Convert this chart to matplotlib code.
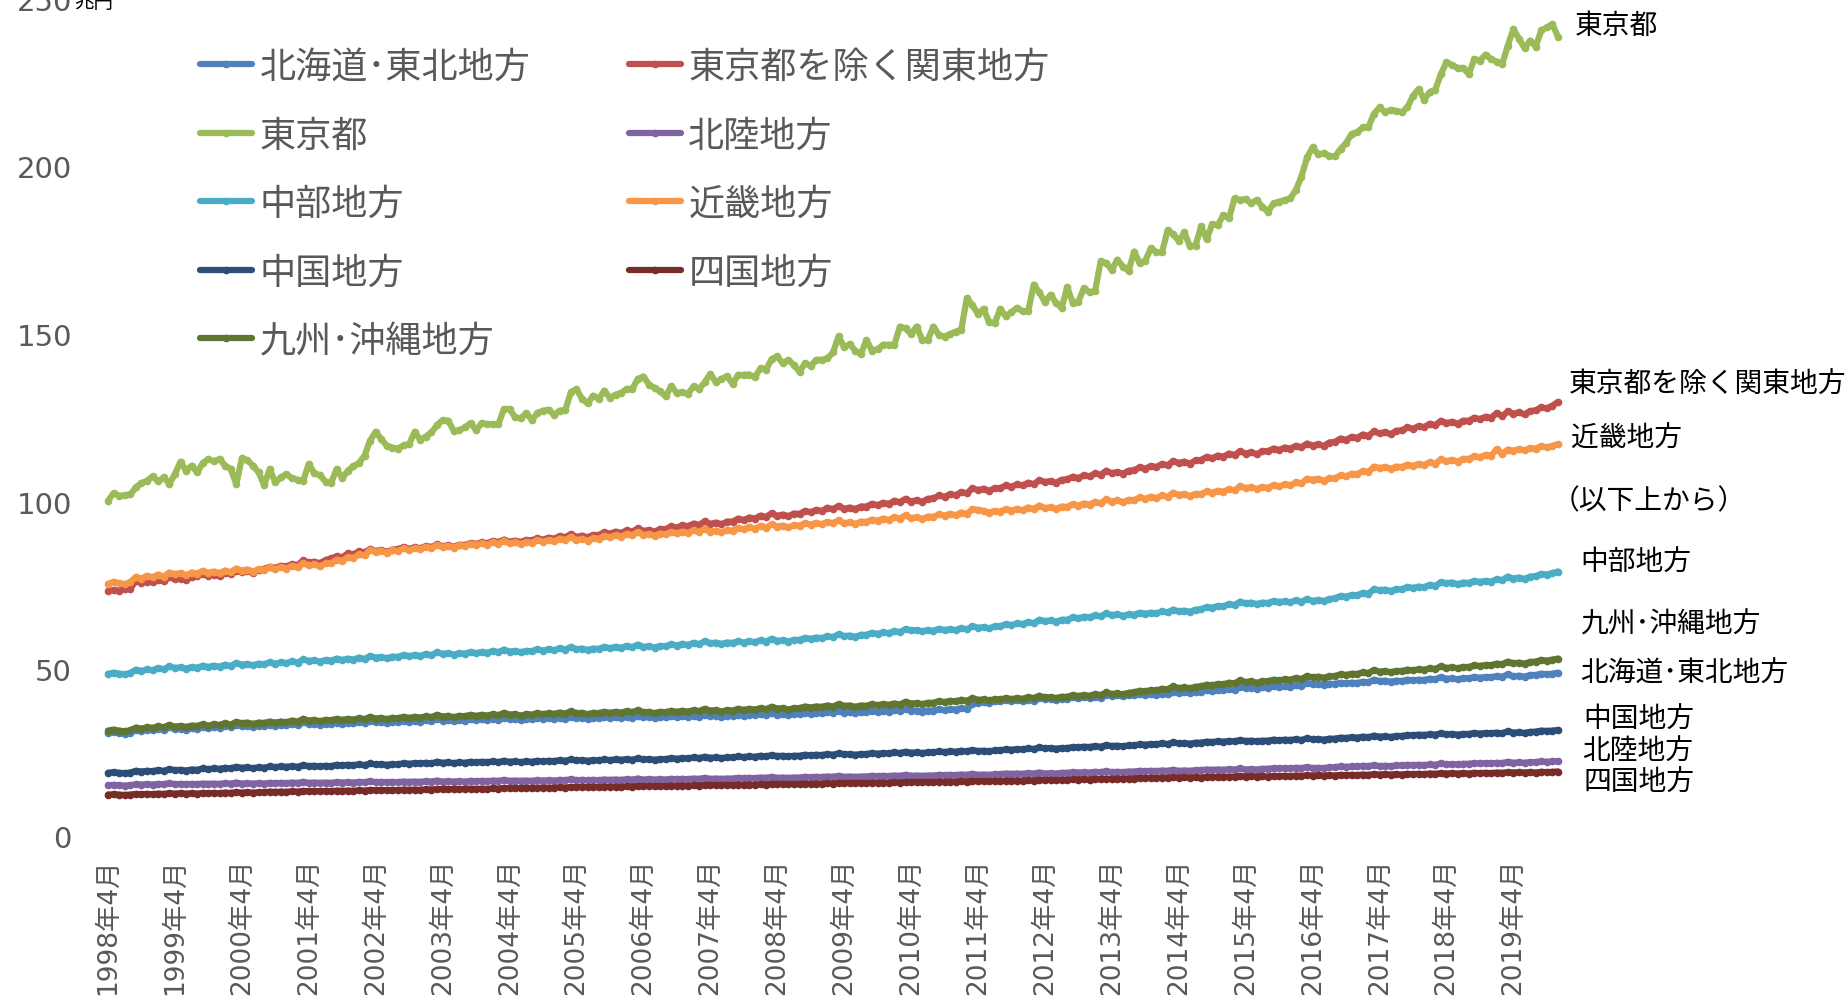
import matplotlib.pyplot as plt

plt.rcParams['font.family'] = ['Noto Sans CJK JP', 'DejaVu Sans']

# 月次残高（兆円）、1998年4月～2019年12月、1行=1年度（4月～3月）
hokkaido_tohoku = [
    30.9, 31.2, 30.9, 30.7, 31.0, 31.8, 31.5, 31.9, 31.7, 32.2, 31.9, 32.6,
    32.0, 32.2, 31.9, 32.3, 32.2, 32.7, 32.4, 32.7, 32.5, 33.0, 32.7, 33.4,
    32.9, 33.0, 32.7, 33.1, 33.0, 33.4, 33.1, 33.4, 33.2, 33.6, 33.3, 34.1,
    33.6, 33.7, 33.4, 33.7, 33.6, 34.0, 33.7, 34.0, 33.8, 34.2, 33.9, 34.6,
    34.1, 34.2, 33.9, 34.2, 34.1, 34.5, 34.2, 34.5, 34.3, 34.7, 34.4, 35.1,
    34.6, 34.7, 34.4, 34.7, 34.6, 35.0, 34.7, 35.0, 34.8, 35.2, 34.9, 35.5,
    35.0, 35.1, 34.8, 35.1, 35.0, 35.4, 35.1, 35.3, 35.1, 35.5, 35.2, 35.8,
    35.3, 35.4, 35.1, 35.4, 35.3, 35.7, 35.4, 35.6, 35.4, 35.8, 35.5, 36.1,
    35.6, 35.7, 35.4, 35.7, 35.6, 36.0, 35.7, 35.9, 35.7, 36.1, 35.8, 36.4,
    35.9, 36.0, 35.7, 36.0, 36.0, 36.4, 36.1, 36.4, 36.2, 36.6, 36.3, 36.9,
    36.4, 36.5, 36.2, 36.6, 36.6, 37.0, 36.7, 37.0, 36.8, 37.2, 36.9, 37.5,
    37.0, 37.1, 36.8, 37.1, 37.1, 37.5, 37.2, 37.5, 37.3, 37.7, 37.4, 38.0,
    37.5, 37.6, 37.3, 37.6, 37.6, 38.0, 37.7, 38.0, 37.9, 38.3, 38.1, 39.6,
    39.8, 40.2, 40.0, 40.4, 40.3, 40.7, 40.4, 40.6, 40.4, 40.8, 40.5, 41.3,
    41.0, 41.1, 40.8, 41.1, 41.1, 41.5, 41.2, 41.5, 41.3, 41.7, 41.4, 42.3,
    42.0, 42.1, 41.8, 42.1, 42.1, 42.5, 42.2, 42.4, 42.3, 42.6, 42.4, 43.2,
    42.9, 43.0, 42.8, 43.2, 43.2, 43.7, 43.4, 43.7, 43.6, 44.0, 43.8, 44.7,
    44.3, 44.4, 44.1, 44.5, 44.4, 44.8, 44.6, 44.8, 44.7, 45.1, 44.9, 45.8,
    45.4, 45.5, 45.2, 45.6, 45.5, 45.9, 45.7, 45.9, 45.8, 46.2, 46.0, 46.8,
    46.4, 46.5, 46.2, 46.5, 46.4, 46.8, 46.6, 46.8, 46.7, 47.1, 46.9, 47.6,
    47.1, 47.2, 46.9, 47.3, 47.2, 47.6, 47.4, 47.6, 47.5, 47.9, 47.7, 48.4,
    47.8, 48.0, 47.7, 48.2, 48.2, 48.6, 48.4, 48.6, 48.9,
]
kanto_ex_tokyo = [
    73.2, 73.6, 73.4, 73.9, 74.0, 76.3, 75.8, 76.1, 75.9, 76.5, 76.2, 77.4,
    76.8, 77.0, 76.6, 77.5, 77.8, 78.4, 77.9, 78.2, 77.7, 78.6, 78.3, 79.3,
    78.9, 79.2, 78.7, 79.6, 79.9, 80.5, 80.2, 80.8, 80.6, 81.3, 81.0, 82.4,
    81.8, 82.0, 81.6, 82.5, 83.0, 83.6, 83.3, 84.5, 84.2, 85.1, 84.8, 85.8,
    85.2, 85.5, 85.0, 85.6, 85.8, 86.4, 85.9, 86.3, 86.0, 86.7, 86.4, 87.2,
    86.6, 86.9, 86.5, 87.1, 87.0, 87.6, 87.3, 87.8, 87.5, 88.2, 87.9, 88.6,
    88.0, 88.3, 87.9, 88.5, 88.4, 89.0, 88.6, 89.2, 88.9, 89.7, 89.3, 90.3,
    89.4, 89.8, 89.3, 90.0, 90.0, 90.8, 90.4, 91.0, 90.6, 91.4, 91.0, 92.0,
    91.2, 91.5, 91.0, 91.8, 91.7, 92.6, 92.2, 92.9, 92.6, 93.4, 93.0, 94.1,
    93.3, 93.7, 93.2, 94.0, 94.0, 94.9, 94.5, 95.2, 94.9, 95.8, 95.4, 96.5,
    95.7, 96.1, 95.6, 96.4, 96.3, 97.2, 96.8, 97.5, 97.2, 98.1, 97.7, 98.7,
    97.8, 98.2, 97.7, 98.5, 98.5, 99.3, 98.9, 99.6, 99.3, 100.2, 99.8, 100.8,
    100.0, 100.4, 99.9, 100.8, 100.9, 101.8, 101.4, 102.2, 101.9, 102.8, 102.4, 104.0,
    103.4, 103.8, 103.2, 104.0, 104.0, 104.8, 104.4, 105.1, 104.8, 105.6, 105.2, 106.4,
    105.8, 106.1, 105.6, 106.5, 106.6, 107.4, 107.0, 107.8, 107.5, 108.4, 108.0, 109.2,
    108.4, 108.8, 108.3, 109.2, 109.3, 110.2, 109.8, 110.6, 110.3, 111.2, 110.8, 112.1,
    111.5, 111.9, 111.3, 112.3, 112.4, 113.3, 112.9, 113.7, 113.4, 114.3, 113.9, 115.0,
    114.3, 114.7, 114.1, 115.0, 115.0, 115.8, 115.4, 116.1, 115.8, 116.6, 116.2, 117.3,
    116.7, 117.1, 116.6, 117.6, 117.8, 118.8, 118.4, 119.3, 119.0, 120.0, 119.6, 120.9,
    120.3, 120.7, 120.1, 121.1, 121.2, 122.1, 121.7, 122.5, 122.2, 123.2, 122.8, 124.1,
    123.4, 123.8, 123.2, 124.1, 124.1, 125.0, 124.6, 125.3, 125.0, 126.4, 125.5, 126.9,
    126.2, 126.6, 126.0, 127.0, 127.2, 128.1, 127.8, 128.6, 129.7,
]
tokyo = [
    100.2, 102.5, 101.7, 101.9, 102.1, 104.2, 105.5, 106.2, 107.5, 106.0, 107.2, 105.2,
    108.2, 111.9, 109.2, 110.7, 108.7, 111.5, 112.7, 112.0, 112.7, 110.7, 109.7, 105.2,
    112.9, 112.3, 110.7, 108.7, 104.9, 109.7, 105.7, 107.2, 108.2, 106.9, 106.5, 106.2,
    111.2, 108.4, 107.9, 105.9, 105.5, 109.7, 106.9, 109.2, 110.5, 111.5, 113.7, 118.2,
    120.8, 118.6, 116.6, 116.1, 115.8, 116.8, 117.1, 120.8, 118.4, 119.4, 120.6, 122.8,
    124.3, 124.1, 121.1, 121.3, 122.1, 123.4, 121.3, 123.4, 123.1, 123.1, 123.1, 127.6,
    127.6, 125.1, 124.8, 126.4, 124.3, 126.4, 127.1, 127.4, 125.9, 127.1, 127.4, 132.6,
    133.6, 130.6, 129.3, 131.6, 130.6, 133.1, 130.9, 131.9, 132.4, 133.6, 133.6, 136.6,
    137.3, 134.9, 133.9, 132.9, 131.4, 134.4, 132.4, 132.6, 132.1, 134.4, 133.6, 135.6,
    138.1, 135.6, 136.6, 137.4, 135.1, 137.8, 137.8, 137.9, 137.1, 139.8, 139.4, 142.5,
    143.3, 141.3, 142.3, 140.7, 138.7, 141.3, 140.5, 142.3, 142.3, 142.7, 144.5, 149.3,
    146.0, 147.0, 145.0, 144.0, 148.2, 145.0, 145.5, 146.8, 146.8, 146.8, 152.2, 151.7,
    150.0, 152.2, 148.2, 148.3, 152.2, 149.7, 149.2, 150.0, 150.7, 151.3, 160.7, 158.6,
    156.0, 157.5, 153.5, 153.3, 157.5, 155.3, 156.5, 157.8, 156.8, 156.8, 164.7, 162.4,
    159.5, 161.7, 159.3, 157.8, 164.0, 159.3, 159.7, 163.7, 162.4, 162.9, 171.7, 171.1,
    169.2, 172.2, 170.1, 168.9, 174.6, 171.1, 171.9, 175.6, 174.4, 174.4, 181.0, 179.8,
    177.8, 180.3, 176.2, 176.4, 182.1, 178.3, 182.8, 182.5, 185.5, 184.5, 190.5, 190.0,
    190.3, 189.0, 190.0, 188.0, 186.5, 189.0, 189.5, 190.0, 190.5, 193.0, 197.0, 202.7,
    205.7, 203.7, 203.9, 203.2, 203.0, 205.2, 207.0, 209.7, 210.2, 211.7, 211.8, 215.7,
    217.7, 216.2, 216.9, 216.6, 216.2, 217.7, 221.1, 223.1, 220.0, 222.2, 222.9, 227.6,
    231.1, 230.3, 229.4, 229.4, 227.6, 232.1, 231.6, 233.4, 232.1, 231.3, 230.6, 236.1,
    241.0, 238.2, 235.3, 237.6, 235.8, 240.6, 241.5, 242.5, 238.7,
]
hokuriku = [
    15.3, 15.4, 15.3, 15.2, 15.3, 15.6, 15.5, 15.6, 15.5, 15.7, 15.6, 15.9,
    15.6, 15.7, 15.6, 15.7, 15.6, 15.8, 15.7, 15.8, 15.7, 15.9, 15.8, 16.1,
    15.8, 15.9, 15.8, 15.9, 15.8, 16.0, 15.9, 16.0, 15.9, 16.1, 16.0, 16.3,
    16.0, 16.1, 16.0, 16.1, 16.0, 16.2, 16.1, 16.2, 16.1, 16.3, 16.2, 16.5,
    16.2, 16.3, 16.2, 16.3, 16.2, 16.4, 16.3, 16.4, 16.3, 16.5, 16.4, 16.7,
    16.4, 16.5, 16.4, 16.5, 16.4, 16.6, 16.5, 16.6, 16.5, 16.7, 16.6, 16.9,
    16.6, 16.7, 16.6, 16.7, 16.6, 16.8, 16.7, 16.8, 16.7, 16.9, 16.8, 17.1,
    16.8, 16.9, 16.8, 16.9, 16.8, 17.0, 16.9, 17.0, 16.9, 17.1, 17.0, 17.3,
    17.0, 17.1, 17.0, 17.1, 17.0, 17.2, 17.1, 17.2, 17.1, 17.3, 17.2, 17.5,
    17.2, 17.3, 17.2, 17.3, 17.3, 17.5, 17.4, 17.5, 17.4, 17.6, 17.5, 17.8,
    17.5, 17.6, 17.5, 17.6, 17.6, 17.8, 17.7, 17.8, 17.7, 17.9, 17.8, 18.1,
    17.8, 17.9, 17.8, 17.9, 17.9, 18.1, 18.0, 18.1, 18.0, 18.2, 18.1, 18.4,
    18.1, 18.2, 18.1, 18.2, 18.2, 18.4, 18.3, 18.4, 18.3, 18.5, 18.4, 18.7,
    18.4, 18.5, 18.4, 18.6, 18.6, 18.8, 18.7, 18.8, 18.7, 18.9, 18.8, 19.1,
    18.8, 18.9, 18.8, 19.0, 19.0, 19.2, 19.1, 19.2, 19.1, 19.3, 19.2, 19.5,
    19.2, 19.3, 19.2, 19.4, 19.4, 19.6, 19.5, 19.6, 19.5, 19.7, 19.6, 19.9,
    19.6, 19.7, 19.6, 19.8, 19.8, 20.0, 19.9, 20.0, 19.9, 20.1, 20.0, 20.3,
    20.0, 20.1, 20.0, 20.2, 20.2, 20.4, 20.3, 20.4, 20.3, 20.5, 20.4, 20.7,
    20.4, 20.5, 20.4, 20.6, 20.7, 20.9, 20.8, 20.9, 20.9, 21.1, 21.0, 21.3,
    21.0, 21.1, 21.0, 21.2, 21.2, 21.4, 21.3, 21.4, 21.3, 21.5, 21.4, 21.8,
    21.5, 21.6, 21.5, 21.7, 21.7, 21.9, 21.8, 21.9, 21.8, 22.0, 21.9, 22.3,
    22.0, 22.1, 22.0, 22.2, 22.2, 22.4, 22.3, 22.4, 22.5,
]
chubu = [
    48.5, 48.9, 48.6, 48.4, 48.8, 49.8, 49.4, 49.9, 49.6, 50.3, 49.9, 50.8,
    50.3, 50.5, 50.1, 50.6, 50.4, 51.0, 50.6, 51.0, 50.7, 51.3, 50.9, 51.8,
    51.3, 51.5, 51.1, 51.6, 51.4, 52.0, 51.6, 52.0, 51.7, 52.3, 51.9, 52.9,
    52.4, 52.6, 52.2, 52.7, 52.5, 53.1, 52.7, 53.1, 52.8, 53.4, 53.0, 53.9,
    53.4, 53.6, 53.2, 53.7, 53.6, 54.2, 53.8, 54.2, 53.9, 54.5, 54.1, 55.0,
    54.5, 54.7, 54.3, 54.7, 54.6, 55.1, 54.7, 55.1, 54.8, 55.4, 55.0, 55.8,
    55.2, 55.4, 55.0, 55.4, 55.3, 55.9, 55.5, 55.9, 55.6, 56.2, 55.8, 56.6,
    55.9, 56.1, 55.7, 56.1, 56.0, 56.6, 56.2, 56.6, 56.3, 56.9, 56.5, 57.3,
    56.6, 56.8, 56.4, 56.9, 56.8, 57.4, 57.0, 57.5, 57.2, 57.8, 57.4, 58.3,
    57.7, 57.9, 57.5, 57.9, 57.8, 58.3, 57.9, 58.3, 58.0, 58.6, 58.2, 59.0,
    58.4, 58.6, 58.2, 58.7, 58.7, 59.3, 59.0, 59.4, 59.2, 59.8, 59.5, 60.4,
    59.8, 60.0, 59.6, 60.2, 60.2, 60.8, 60.5, 60.9, 60.7, 61.3, 61.0, 61.9,
    61.5, 61.6, 61.2, 61.6, 61.4, 62.0, 61.6, 61.9, 61.6, 62.2, 61.8, 62.8,
    62.3, 62.5, 62.1, 62.7, 62.7, 63.4, 63.1, 63.6, 63.4, 64.0, 63.7, 64.7,
    64.3, 64.5, 64.1, 64.7, 64.7, 65.4, 65.1, 65.6, 65.4, 66.0, 65.7, 66.6,
    66.1, 66.3, 65.9, 66.3, 66.2, 66.8, 66.5, 66.8, 66.6, 67.2, 66.9, 67.7,
    67.2, 67.4, 67.1, 67.7, 67.8, 68.5, 68.3, 68.8, 68.7, 69.4, 69.1, 70.1,
    69.6, 69.8, 69.4, 69.8, 69.7, 70.3, 70.0, 70.2, 69.9, 70.5, 70.1, 70.9,
    70.3, 70.6, 70.3, 70.9, 71.1, 71.8, 71.6, 72.1, 72.0, 72.7, 72.5, 73.8,
    73.5, 73.7, 73.3, 73.8, 73.8, 74.5, 74.2, 74.6, 74.4, 75.1, 74.8, 75.9,
    75.6, 75.8, 75.3, 75.8, 75.7, 76.3, 76.0, 76.3, 76.1, 76.8, 76.5, 77.6,
    77.0, 77.3, 76.9, 77.6, 77.7, 78.4, 78.2, 78.6, 79.1,
]
kinki = [
    75.4, 76.0, 75.6, 75.3, 75.9, 77.5, 77.0, 77.8, 77.4, 78.2, 77.6, 78.8,
    78.3, 78.6, 78.0, 78.8, 78.5, 79.3, 78.7, 79.1, 78.6, 79.4, 78.9, 80.0,
    79.4, 79.7, 79.1, 79.8, 79.6, 80.3, 79.8, 80.4, 80.0, 80.8, 80.3, 81.6,
    80.9, 81.2, 80.6, 81.5, 81.6, 82.6, 82.2, 83.4, 83.1, 84.2, 83.9, 85.6,
    84.9, 85.3, 84.7, 85.4, 85.3, 86.0, 85.5, 86.0, 85.7, 86.5, 86.0, 87.0,
    86.4, 86.7, 86.2, 86.9, 86.7, 87.4, 87.0, 87.5, 87.1, 87.8, 87.4, 88.3,
    87.5, 87.8, 87.3, 87.9, 87.7, 88.4, 88.0, 88.5, 88.1, 88.9, 88.5, 89.4,
    88.5, 88.8, 88.3, 89.0, 88.9, 89.7, 89.3, 89.9, 89.5, 90.3, 89.9, 90.9,
    90.0, 90.3, 89.8, 90.4, 90.2, 90.9, 90.5, 91.0, 90.6, 91.4, 90.9, 91.9,
    91.0, 91.3, 90.8, 91.5, 91.3, 92.1, 91.7, 92.3, 91.9, 92.7, 92.2, 93.2,
    92.5, 92.8, 92.3, 92.9, 92.8, 93.5, 93.1, 93.6, 93.2, 93.9, 93.5, 94.4,
    93.5, 93.8, 93.3, 94.0, 93.9, 94.6, 94.3, 94.9, 94.5, 95.3, 94.9, 95.9,
    95.0, 95.3, 94.8, 95.5, 95.4, 96.2, 95.8, 96.3, 95.9, 96.7, 96.3, 97.7,
    97.5, 97.2, 96.7, 97.2, 97.0, 97.7, 97.3, 97.8, 97.4, 98.2, 97.8, 98.8,
    98.0, 98.3, 97.8, 98.5, 98.4, 99.2, 98.8, 99.4, 99.1, 99.9, 99.5, 100.6,
    100.0, 100.3, 99.8, 100.5, 100.4, 101.2, 100.8, 101.4, 101.0, 101.8, 101.4, 102.6,
    102.0, 102.2, 101.6, 102.3, 102.2, 103.0, 102.6, 103.2, 102.9, 103.7, 103.3, 104.6,
    104.0, 104.3, 103.7, 104.3, 104.1, 104.9, 104.5, 105.1, 104.8, 105.7, 105.4, 106.8,
    106.5, 106.8, 106.2, 106.9, 106.9, 107.8, 107.5, 108.3, 108.1, 109.1, 108.8, 110.4,
    110.0, 110.3, 109.8, 110.4, 110.3, 111.0, 110.6, 111.2, 110.9, 111.7, 111.3, 112.6,
    112.0, 112.4, 111.9, 112.7, 112.7, 113.5, 113.2, 113.9, 113.7, 115.6, 114.2, 115.5,
    115.2, 115.6, 115.3, 115.9, 115.8, 116.5, 116.2, 116.6, 117.1,
]
chugoku = [
    19.0, 19.2, 19.0, 18.9, 19.1, 19.6, 19.4, 19.6, 19.5, 19.8, 19.6, 20.1,
    19.8, 19.9, 19.7, 20.0, 19.9, 20.3, 20.1, 20.3, 20.2, 20.5, 20.3, 20.8,
    20.5, 20.6, 20.4, 20.6, 20.5, 20.9, 20.7, 20.9, 20.8, 21.0, 20.8, 21.3,
    21.0, 21.1, 20.9, 21.1, 21.0, 21.4, 21.2, 21.4, 21.3, 21.5, 21.3, 21.8,
    21.5, 21.6, 21.4, 21.6, 21.5, 21.9, 21.7, 21.9, 21.8, 22.0, 21.8, 22.3,
    22.0, 22.1, 21.9, 22.1, 22.0, 22.3, 22.1, 22.3, 22.2, 22.4, 22.2, 22.6,
    22.3, 22.4, 22.2, 22.4, 22.3, 22.6, 22.4, 22.6, 22.5, 22.8, 22.6, 23.0,
    22.7, 22.8, 22.6, 22.8, 22.7, 23.0, 22.8, 23.0, 22.9, 23.1, 22.9, 23.3,
    23.0, 23.1, 22.9, 23.1, 23.1, 23.4, 23.2, 23.4, 23.3, 23.6, 23.4, 23.8,
    23.5, 23.6, 23.4, 23.6, 23.6, 23.9, 23.7, 23.9, 23.8, 24.1, 23.9, 24.3,
    24.0, 24.1, 23.9, 24.1, 24.1, 24.4, 24.2, 24.4, 24.3, 24.6, 24.4, 24.8,
    24.5, 24.6, 24.4, 24.6, 24.6, 24.9, 24.7, 24.9, 24.8, 25.1, 24.9, 25.3,
    25.0, 25.1, 24.9, 25.1, 25.1, 25.4, 25.2, 25.4, 25.3, 25.6, 25.4, 25.8,
    25.5, 25.6, 25.4, 25.7, 25.7, 26.0, 25.9, 26.1, 26.0, 26.3, 26.1, 26.6,
    26.3, 26.4, 26.2, 26.4, 26.4, 26.7, 26.6, 26.8, 26.7, 27.0, 26.8, 27.3,
    27.0, 27.1, 26.9, 27.2, 27.2, 27.5, 27.4, 27.6, 27.5, 27.8, 27.6, 28.1,
    27.8, 27.9, 27.7, 28.0, 28.0, 28.3, 28.2, 28.4, 28.3, 28.5, 28.4, 28.8,
    28.5, 28.6, 28.4, 28.6, 28.6, 28.9, 28.7, 28.9, 28.8, 29.0, 28.8, 29.3,
    29.0, 29.1, 28.9, 29.2, 29.2, 29.5, 29.4, 29.6, 29.5, 29.8, 29.6, 30.1,
    29.8, 29.9, 29.7, 30.0, 30.0, 30.3, 30.2, 30.4, 30.3, 30.5, 30.4, 30.8,
    30.5, 30.6, 30.4, 30.6, 30.6, 30.9, 30.7, 30.9, 30.8, 31.0, 30.8, 31.4,
    31.0, 31.1, 30.9, 31.2, 31.3, 31.6, 31.5, 31.6, 31.8,
]
shikoku = [
    12.5, 12.6, 12.5, 12.4, 12.5, 12.7, 12.6, 12.7, 12.6, 12.8, 12.7, 12.9,
    12.8, 12.9, 12.8, 12.9, 12.8, 13.0, 12.9, 13.0, 12.9, 13.1, 13.0, 13.2,
    13.1, 13.2, 13.1, 13.2, 13.2, 13.4, 13.3, 13.4, 13.3, 13.5, 13.4, 13.6,
    13.5, 13.6, 13.5, 13.6, 13.5, 13.7, 13.6, 13.7, 13.6, 13.8, 13.7, 13.9,
    13.8, 13.9, 13.8, 13.9, 13.8, 14.0, 13.9, 14.0, 13.9, 14.1, 14.0, 14.2,
    14.1, 14.2, 14.1, 14.2, 14.1, 14.3, 14.2, 14.3, 14.2, 14.4, 14.3, 14.5,
    14.4, 14.5, 14.4, 14.5, 14.4, 14.6, 14.5, 14.6, 14.5, 14.7, 14.6, 14.8,
    14.7, 14.8, 14.7, 14.8, 14.7, 14.9, 14.8, 14.9, 14.8, 15.0, 14.9, 15.1,
    15.0, 15.1, 15.0, 15.1, 15.0, 15.2, 15.1, 15.2, 15.1, 15.3, 15.2, 15.4,
    15.3, 15.4, 15.3, 15.4, 15.3, 15.5, 15.4, 15.5, 15.4, 15.6, 15.5, 15.7,
    15.6, 15.7, 15.6, 15.7, 15.6, 15.8, 15.7, 15.8, 15.7, 15.9, 15.8, 16.0,
    15.9, 16.0, 15.9, 16.0, 15.9, 16.1, 16.0, 16.1, 16.0, 16.2, 16.1, 16.3,
    16.2, 16.3, 16.2, 16.3, 16.2, 16.4, 16.3, 16.4, 16.3, 16.5, 16.4, 16.6,
    16.5, 16.6, 16.5, 16.6, 16.5, 16.7, 16.6, 16.7, 16.6, 16.8, 16.7, 16.9,
    16.8, 16.9, 16.8, 16.9, 16.9, 17.1, 17.0, 17.1, 17.0, 17.2, 17.1, 17.3,
    17.2, 17.3, 17.2, 17.3, 17.3, 17.5, 17.4, 17.5, 17.4, 17.6, 17.5, 17.7,
    17.6, 17.7, 17.6, 17.7, 17.6, 17.8, 17.7, 17.8, 17.7, 17.9, 17.8, 18.0,
    17.9, 18.0, 17.9, 18.0, 17.9, 18.1, 18.0, 18.1, 18.0, 18.2, 18.1, 18.3,
    18.2, 18.3, 18.2, 18.3, 18.2, 18.4, 18.3, 18.4, 18.3, 18.5, 18.4, 18.6,
    18.5, 18.6, 18.5, 18.6, 18.5, 18.7, 18.6, 18.7, 18.6, 18.8, 18.7, 18.9,
    18.8, 18.9, 18.8, 18.9, 18.8, 19.0, 18.9, 19.0, 18.9, 19.1, 19.0, 19.2,
    19.1, 19.2, 19.1, 19.2, 19.1, 19.3, 19.2, 19.3, 19.4,
]
kyushu_okinawa = [
    31.6, 31.9, 31.6, 31.4, 31.7, 32.5, 32.2, 32.6, 32.4, 32.9, 32.6, 33.3,
    32.8, 33.0, 32.7, 33.1, 33.0, 33.5, 33.1, 33.5, 33.3, 33.8, 33.4, 34.2,
    33.8, 34.0, 33.6, 34.0, 33.9, 34.3, 34.0, 34.3, 34.1, 34.6, 34.3, 35.1,
    34.6, 34.8, 34.4, 34.8, 34.7, 35.1, 34.8, 35.1, 34.9, 35.3, 35.0, 35.7,
    35.2, 35.4, 35.0, 35.4, 35.3, 35.7, 35.4, 35.7, 35.5, 35.9, 35.6, 36.3,
    35.8, 36.0, 35.6, 36.0, 35.9, 36.3, 36.0, 36.3, 36.1, 36.5, 36.2, 36.9,
    36.4, 36.5, 36.1, 36.5, 36.4, 36.8, 36.5, 36.8, 36.6, 37.0, 36.7, 37.4,
    36.8, 36.9, 36.5, 36.9, 36.8, 37.2, 36.9, 37.2, 37.0, 37.4, 37.1, 37.7,
    37.1, 37.2, 36.8, 37.2, 37.1, 37.5, 37.2, 37.5, 37.3, 37.7, 37.4, 38.1,
    37.6, 37.7, 37.3, 37.7, 37.6, 38.1, 37.8, 38.1, 37.9, 38.3, 38.0, 38.7,
    38.2, 38.3, 37.9, 38.3, 38.3, 38.8, 38.5, 38.8, 38.7, 39.1, 38.8, 39.5,
    39.0, 39.1, 38.7, 39.1, 39.0, 39.5, 39.2, 39.5, 39.3, 39.7, 39.4, 40.2,
    39.7, 39.8, 39.5, 39.9, 39.9, 40.4, 40.1, 40.5, 40.3, 40.8, 40.5, 41.3,
    40.8, 40.9, 40.6, 41.0, 40.9, 41.3, 41.0, 41.3, 41.1, 41.6, 41.3, 42.0,
    41.5, 41.6, 41.3, 41.7, 41.7, 42.2, 41.9, 42.2, 42.0, 42.5, 42.2, 43.0,
    42.5, 42.7, 42.4, 42.9, 43.0, 43.5, 43.3, 43.7, 43.6, 44.1, 43.9, 44.8,
    44.3, 44.5, 44.2, 44.7, 44.8, 45.3, 45.1, 45.5, 45.4, 45.9, 45.7, 46.6,
    46.1, 46.3, 45.9, 46.3, 46.3, 46.8, 46.6, 46.9, 46.8, 47.3, 47.0, 47.9,
    47.5, 47.7, 47.4, 47.8, 47.9, 48.4, 48.2, 48.6, 48.5, 49.0, 48.8, 49.7,
    49.2, 49.4, 49.0, 49.4, 49.4, 49.8, 49.6, 49.9, 49.8, 50.2, 50.0, 50.8,
    50.3, 50.5, 50.2, 50.6, 50.6, 51.1, 50.9, 51.2, 51.1, 51.6, 51.4, 52.2,
    51.7, 51.9, 51.6, 52.1, 52.2, 52.7, 52.5, 52.8, 53.1,
]

series = [
    ("北海道･東北地方", hokkaido_tohoku, "#4F81BD"),
    ("東京都を除く関東地方", kanto_ex_tokyo, "#C0504D"),
    ("東京都", tokyo, "#9BBB59"),
    ("北陸地方", hokuriku, "#8064A2"),
    ("中部地方", chubu, "#4BACC6"),
    ("近畿地方", kinki, "#F79646"),
    ("中国地方", chugoku, "#2C4D75"),
    ("四国地方", shikoku, "#772C2A"),
    ("九州･沖縄地方", kyushu_okinawa, "#5F7530"),
]

# 系列末尾の右側ラベル（図上の位置はピクセル）
end_labels = [
    ("東京都", 1575, 26),
    ("東京都を除く関東地方", 1569, 385),
    ("近畿地方", 1571, 439),
    ("（以下上から）", 1552, 501),
    ("中部地方", 1580, 563),
    ("九州･沖縄地方", 1580, 625),
    ("北海道･東北地方", 1580, 674),
    ("中国地方", 1583, 720),
    ("北陸地方", 1582, 752),
    ("四国地方", 1584, 783),
]

first_year = 1998
n_years = 22
y_ticks = [0, 50, 100, 150, 200, 250]

W, H = 1847, 1004
fig = plt.figure(figsize=(W / 100, H / 100), dpi=100)
ax = fig.add_axes([108 / W, (H - 837.5) / H, 1450 / W, 837.5 / H])

months = list(range(len(tokyo)))
handles = []
for name, values, color in series:
    h, = ax.plot(months, values, color=color, lw=4.5, marker='o', ms=4.5,
                 solid_capstyle='round', clip_on=False, label=name)
    handles.append(h)

ax.set_xlim(0, len(tokyo) - 1)
ax.set_ylim(0, 250)
for s in ax.spines.values():
    s.set_visible(False)

tick_pos = [12 * k for k in range(n_years)]
ax.set_xticks(tick_pos)
ax.set_xticklabels([f"{first_year + k}年4月" for k in range(n_years)],
                   rotation=90, fontsize=19, color='#595959',
                   family=['DejaVu Sans', 'Noto Sans CJK JP'])
ax.set_yticks(y_ticks)
ax.set_yticklabels([str(v) for v in y_ticks], fontsize=21, color='#595959',
                   family=['DejaVu Sans'])
ax.tick_params(axis='x', length=0, pad=15)
ax.tick_params(axis='y', length=0, pad=26)

fig.text(74 / W, 1 - 2 / H, "兆円", fontsize=14, color='black', va='center')

# 凡例：2列、行方向に並べる
order = [0, 2, 4, 6, 8, 1, 3, 5, 7]
ax.legend([handles[i] for i in order], [series[i][0] for i in order],
          ncol=2, loc='upper left', bbox_to_anchor=(200 / W, 1 - 50 / H),
          bbox_transform=fig.transFigure, frameon=False, fontsize=26,
          labelcolor='#595959', handlelength=1.45, handletextpad=0.2,
          columnspacing=2.72, labelspacing=0.9, borderpad=0, borderaxespad=0)

for text, px, py in end_labels:
    fig.text(px / W, 1 - py / H, text, fontsize=20, color='black', va='center')

fig.savefig("out.png", dpi=100)
